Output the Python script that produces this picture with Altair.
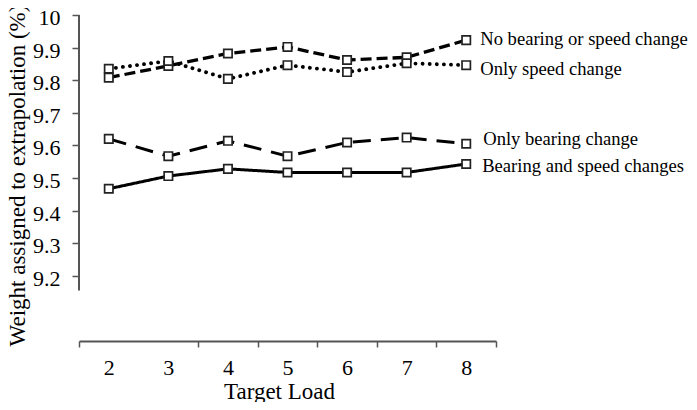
import altair as alt
import pandas as pd

loads = [2, 3, 4, 5, 6, 7, 8]
series_names = [
    "No bearing or speed change",
    "Only speed change",
    "Only bearing change",
    "Bearing and speed changes",
]
no_change = [9.808, 9.844, 9.882, 9.902, 9.862, 9.870, 9.923]
speed_only = [9.835, 9.859, 9.804, 9.846, 9.825, 9.852, 9.846]
bearing_only = [9.620, 9.567, 9.614, 9.567, 9.609, 9.624, 9.605]
both = [9.467, 9.506, 9.528, 9.517, 9.517, 9.517, 9.543]
y_ticks = [9.2, 9.3, 9.4, 9.5, 9.6, 9.7, 9.8, 9.9, 10.0]

values = [no_change, speed_only, bearing_only, both]
styles = {
    "No bearing or speed change": dict(dash=[11, 5], width=3.3, cap="butt", dx=14, dy=5),
    "Only speed change": dict(dash=[0.1, 7], width=3.8, cap="round", dx=14, dy=10),
    "Only bearing change": dict(dash=[18, 10], width=3.0, cap="butt", dx=17, dy=1),
    "Bearing and speed changes": dict(dash=[1, 0], width=3.0, cap="butt", dx=16, dy=8),
}

FONT = "Liberation Serif, Times New Roman, DejaVu Serif, serif"

xenc = alt.X(
    "load:O",
    scale=alt.Scale(type="band", paddingInner=0, paddingOuter=0, domain=loads),
    axis=alt.Axis(
        title="Target Load",
        tickBand="extent",
        tickOpacity={"condition": {"test": "datum.value == 2", "value": 0}, "value": 1},
        labelAngle=0,
        labelFont=FONT,
        labelFontSize=22,
        labelColor="black",
        labelPadding=10,
        tickSize=6,
        tickColor="#555",
        domainColor="#555",
        domainWidth=2,
        tickWidth=1.5,
        titleFont=FONT,
        titleFontSize=23,
        titleFontWeight="normal",
        titleColor="black",
        titleX=200,
        titleY=57,
        titleBaseline="alphabetic",
        grid=False,
    ),
)
yscale = alt.Scale(domain=[9.0, 10.0], nice=False, zero=False)
yenc = alt.Y(
    "val:Q",
    scale=yscale,
    axis=alt.Axis(
        title="Weight assigned to extrapolation (%)",
        values=y_ticks,
        format=".1~f",
        domain=False,
        labelFont=FONT,
        labelFontSize=22,
        labelColor="black",
        labelPadding=12,
        labelOffset=2.5,
        tickSize=7,
        tickColor="#555",
        tickWidth=1.5,
        titleFont=FONT,
        titleFontSize=23,
        titleFontWeight="normal",
        titleColor="black",
        titleX=-55,
        titleY=160,
        titleAngle=270,
        titleAlign="center",
        titleBaseline="alphabetic",
        grid=False,
    ),
)

layers = []
# broken y-axis line
axis_df = pd.DataFrame({"top": [10.0], "bottom": [9.155]})
layers.append(
    alt.Chart(axis_df)
    .mark_rule(color="#555", strokeWidth=2)
    .encode(x=alt.value(0), y=alt.Y("top:Q", scale=yscale), y2="bottom:Q")
)

for name, vals in zip(series_names, values):
    st = styles[name]
    df = pd.DataFrame({"load": loads, "val": vals, "series": name})
    base = alt.Chart(df).encode(x=xenc, y=yenc)
    layers.append(
        base.mark_line(
            color="black",
            strokeWidth=st["width"],
            strokeDash=st["dash"],
            strokeCap=st["cap"],
        )
    )
for name, vals in zip(series_names, values):
    df = pd.DataFrame({"load": loads, "val": vals, "series": name})
    base = alt.Chart(df).encode(x=xenc, y=yenc)
    layers.append(
        base.mark_point(
            shape="square", size=70, filled=True, fill="white",
            stroke="#222", strokeWidth=1.7, opacity=1,
        )
    )
for name, vals in zip(series_names, values):
    st = styles[name]
    df = pd.DataFrame({"load": [loads[-1]], "val": [vals[-1]], "label": [name]})
    layers.append(
        alt.Chart(df)
        .mark_text(
            align="left", baseline="alphabetic", dx=st["dx"], dy=st["dy"],
            font=FONT, fontSize=18.6, color="black",
        )
        .encode(x=xenc, y=yenc, text="label:N")
    )

chart = (
    alt.layer(*layers)
    .properties(
        width=417,
        height=326,
        autosize=alt.AutoSizeParams(type="none"),
        padding={"left": 71, "top": 7, "right": 193, "bottom": 61},
    )
    .configure_view(stroke=None)
)

chart.save("out.html", embed_options={"renderer": "svg", "actions": False})
